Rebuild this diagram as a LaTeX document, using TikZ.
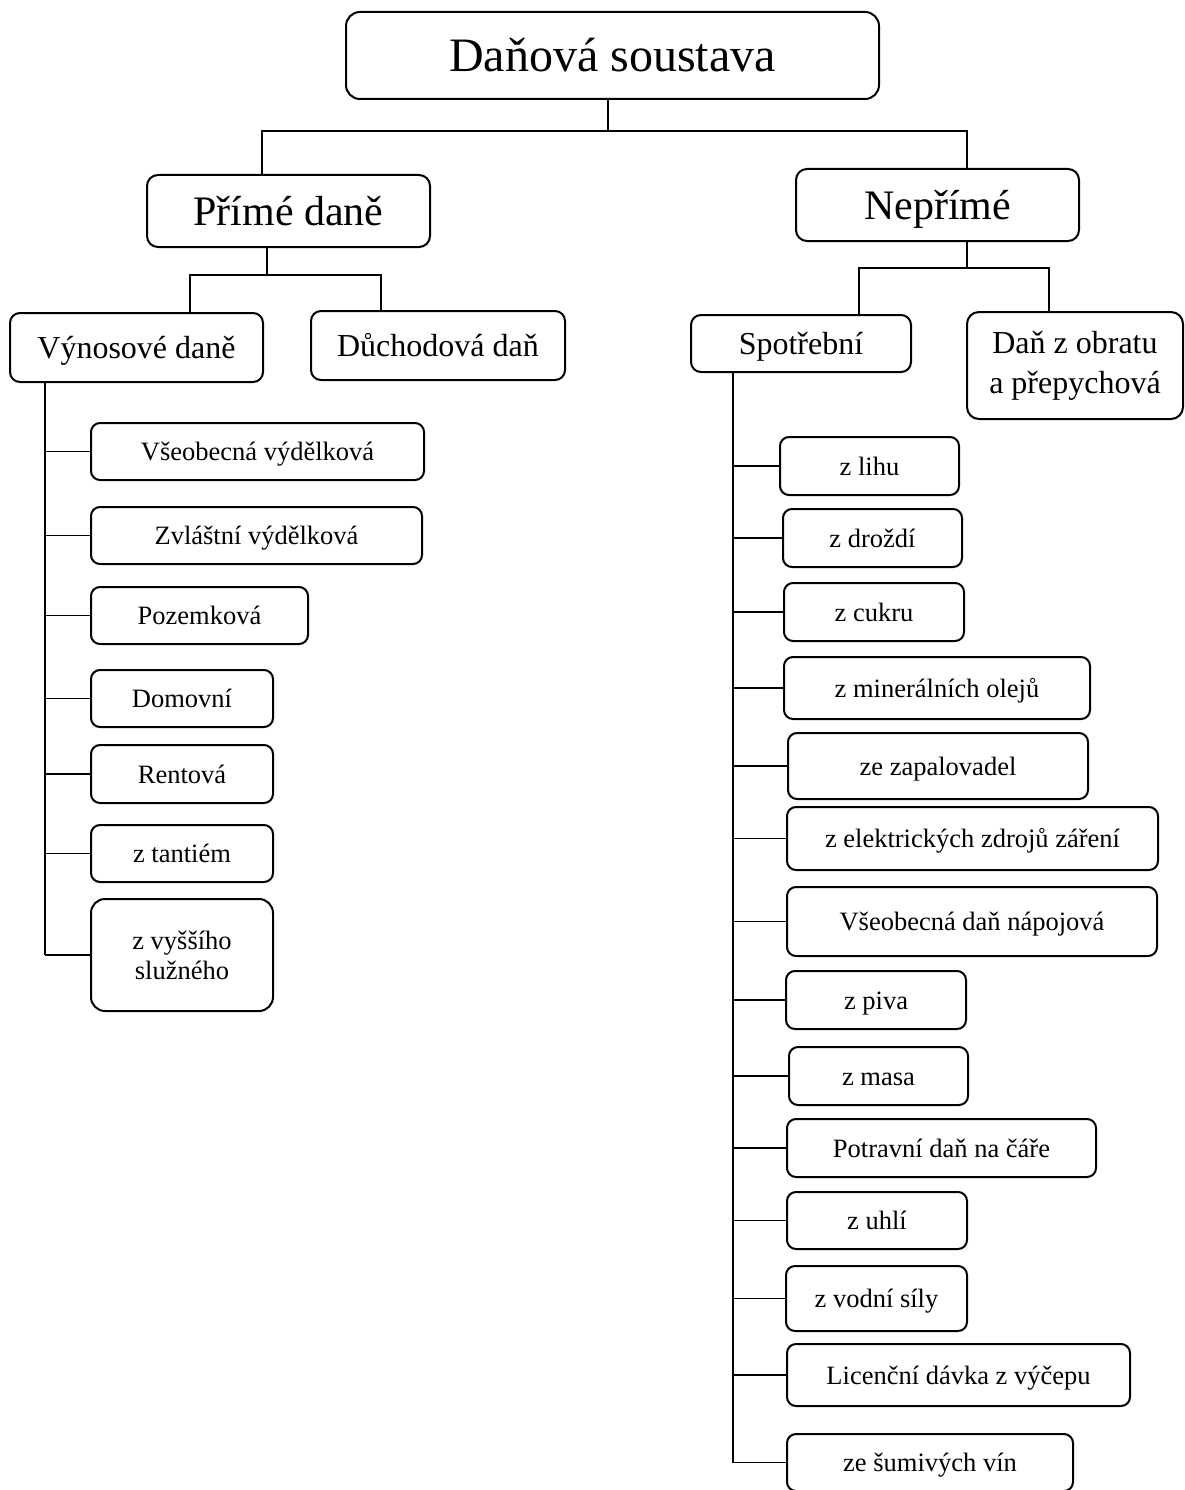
\documentclass[tikz,border=0pt]{standalone}
\usepackage{fontspec}
\setmainfont{Liberation Serif}
\begin{document}
\begin{tikzpicture}[x=1pt,y=-1pt,
  box/.style={draw, line width=2pt, rounded corners=9pt, inner sep=0pt},
  conn/.style={line width=1.2pt},
  fbig/.style={font=\fontsize{48}{56}\selectfont, text height=43pt, text depth=10.5pt},
  fmid/.style={font=\fontsize{42}{50}\selectfont, text height=38pt, text depth=9pt},
  fmed/.style={font=\fontsize{32}{40}\selectfont, text height=29pt, text depth=7pt},
  fsm/.style={font=\fontsize{26.5}{30}\selectfont, text height=24pt, text depth=6pt},
  fmedtwo/.style={font=\fontsize{32}{40}\selectfont, align=center},
  fsmtwo/.style={font=\fontsize{26.5}{30}\selectfont, align=center},
]
\useasboundingbox (0,0) rectangle (1184,1490);

% top levels
\node[box, fbig, rounded corners=14pt, minimum width=533pt, minimum height=87pt] (top) at (612.5,55.5) {Daňová soustava};
\node[box, fmid, rounded corners=11pt, minimum width=283pt, minimum height=72pt] (pr) at (288.5,211) {Přímé daně};
\node[box, fmid, rounded corners=11pt, minimum width=283pt, minimum height=72pt] (np) at (937.5,205) {Nepřímé};
\node[box, fmed, rounded corners=10pt, minimum width=253pt, minimum height=69pt] (vy) at (136.5,347.5) {Výnosové daně};
\node[box, fmed, rounded corners=10pt, minimum width=254pt, minimum height=69pt] (du) at (438,345.5) {Důchodová daň};
\node[box, fmed, rounded corners=10pt, minimum width=220pt, minimum height=57pt] (sp) at (801,343.5) {Spotřební};
\node[box, fmedtwo, rounded corners=12pt, minimum width=216pt, minimum height=107pt] (dz) at (1075,365.5) {Daň z obratu\\a přepychová};

% left list
\node[box, fsm, minimum width=333pt, minimum height=57pt] (l1) at (257.5,451.5) {Všeobecná výdělková};
\node[box, fsm, minimum width=331pt, minimum height=57pt] (l2) at (256.5,535.5) {Zvláštní výdělková};
\node[box, fsm, minimum width=217pt, minimum height=57pt] (l3) at (199.5,615.5) {Pozemková};
\node[box, fsm, minimum width=182pt, minimum height=57pt] (l4) at (182,698.5) {Domovní};
\node[box, fsm, minimum width=182pt, minimum height=58pt] (l5) at (182,774) {Rentová};
\node[box, fsm, minimum width=182pt, minimum height=57pt] (l6) at (182,853.5) {z tantiém};
\node[box, fsmtwo, rounded corners=14pt, minimum width=182pt, minimum height=112pt] (l7) at (182,955) {z vyššího\\služného};

% right list
\node[box, fsm, minimum width=179pt, minimum height=58pt] (r1) at (869.5,466) {z lihu};
\node[box, fsm, minimum width=179pt, minimum height=58pt] (r2) at (872.5,538) {z droždí};
\node[box, fsm, minimum width=180pt, minimum height=58pt] (r3) at (874,612) {z cukru};
\node[box, fsm, minimum width=306pt, minimum height=62pt] (r4) at (937,688) {z minerálních olejů};
\node[box, fsm, minimum width=300pt, minimum height=66pt] (r5) at (938,766) {ze zapalovadel};
\node[box, fsm, minimum width=371pt, minimum height=63pt] (r6) at (972.5,838.5) {z elektrických zdrojů záření};
\node[box, fsm, minimum width=370pt, minimum height=69pt] (r7) at (972,921.5) {Všeobecná daň nápojová};
\node[box, fsm, minimum width=180pt, minimum height=58pt] (r8) at (876,1000) {z piva};
\node[box, fsm, minimum width=179pt, minimum height=58pt] (r9) at (878.5,1076) {z masa};
\node[box, fsm, minimum width=309pt, minimum height=58pt] (r10) at (941.5,1148) {Potravní daň na čáře};
\node[box, fsm, minimum width=180pt, minimum height=57pt] (r11) at (877,1220.5) {z uhlí};
\node[box, fsm, minimum width=181pt, minimum height=65pt] (r12) at (876.5,1298.5) {z vodní síly};
\node[box, fsm, minimum width=343pt, minimum height=62pt] (r13) at (958.5,1375) {Licenční dávka z výčepu};
\node[box, fsm, minimum width=286pt, minimum height=57pt] (r14) at (930,1462.5) {ze šumivých vín};

% junction coordinates
\coordinate (bM) at (608,131);
\coordinate (bL) at (262,131);
\coordinate (bR) at (967,131);
\coordinate (pM) at (267,275);
\coordinate (pL) at (190,275);
\coordinate (pR) at (381,275);
\coordinate (nM) at (967,268);
\coordinate (nL) at (859,268);
\coordinate (nR) at (1049,268);
\coordinate (sL) at (45,0);
\coordinate (sR) at (733,0);

% connectors
\draw[conn] (top.south -| bM) -- (bM);
\draw[conn] (pr.north -| bL) -- (bL) -- (bR) -- (np.north -| bR);
\draw[conn] (pr.south -| pM) -- (pM);
\draw[conn] (vy.north -| pL) -- (pL) -- (pR) -- (du.north -| pR);
\draw[conn] (np.south -| nM) -- (nM);
\draw[conn] (sp.north -| nL) -- (nL) -- (nR) -- (dz.north -| nR);

\draw[conn] (vy.south -| sL) -- (l7.west -| sL);
\foreach \n in {l1,l2,l3,l4,l5,l6,l7}
  \draw[conn] (\n.west -| sL) -- (\n.west);

\draw[conn] (sp.south -| sR) -- (r14.west -| sR);
\foreach \n in {r1,r2,r3,r4,r5,r6,r7,r8,r9,r10,r11,r12,r13,r14}
  \draw[conn] (\n.west -| sR) -- (\n.west);
\end{tikzpicture}
\end{document}
